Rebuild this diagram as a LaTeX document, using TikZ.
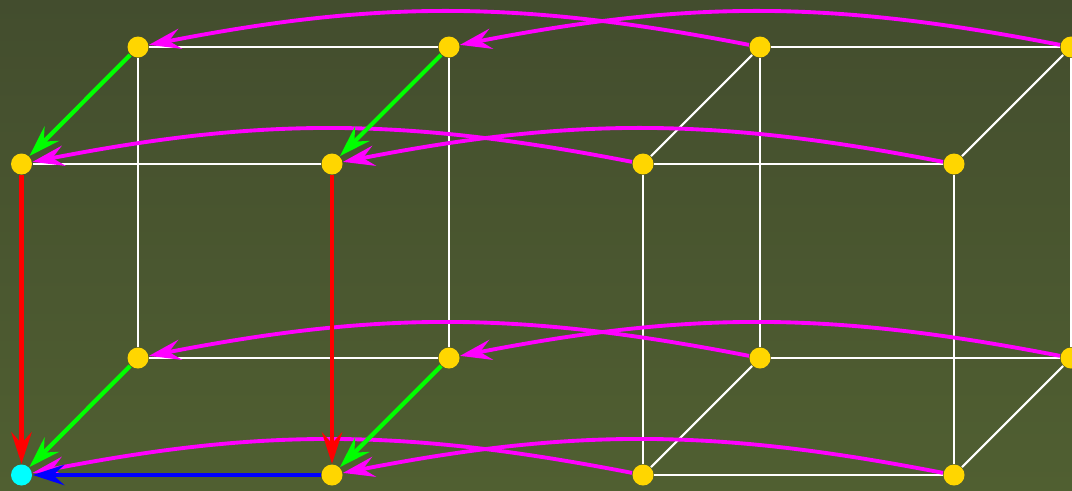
\documentclass[tikz,border=0pt]{standalone}
\usetikzlibrary{arrows.meta}

\definecolor{vtxyellow}{RGB}{255,214,0}
\definecolor{magline}{RGB}{255,0,255}
\definecolor{cyanvtx}{RGB}{0,255,255}
\definecolor{grnline}{RGB}{0,255,0}
\definecolor{redline}{RGB}{255,0,0}
\definecolor{blueline}{RGB}{0,0,255}

\begin{document}
\begin{tikzpicture}[
  vtx/.style={circle, fill=vtxyellow, inner sep=0pt, minimum size=2.1mm},
  start/.style={circle, fill=cyanvtx, inner sep=0pt, minimum size=2.1mm},
  wedge/.style={draw=white, line width=0.6pt},
  tip/.style={-{Stealth[length=9pt, width=5.8pt, inset=3.2pt]}},
  magedge/.style={tip, draw=magline, line width=1.1pt},
  grnedge/.style={tip, draw=grnline, line width=1.2pt},
  rededge/.style={tip, draw=redline, line width=1.2pt},
  bluedge/.style={tip, draw=blueline, line width=1.2pt}
]
\shade[top color={rgb,255:red,67;green,77;blue,46}, bottom color={rgb,255:red,80;green,95;blue,49}] (0,0) rectangle (10.72,4.90);
\useasboundingbox (0,0) rectangle (10.72,4.90);

\node[vtx] (bt1) at (1.38, 4.43) {};
\node[vtx] (bt2) at (4.49, 4.43) {};
\node[vtx] (bt3) at (7.60, 4.43) {};
\node[vtx] (bt4) at (10.71, 4.43) {};
\node[vtx] (ft1) at (0.215, 3.26) {};
\node[vtx] (ft2) at (3.32, 3.26) {};
\node[vtx] (ft3) at (6.43, 3.26) {};
\node[vtx] (ft4) at (9.54, 3.26) {};
\node[vtx] (bb1) at (1.38, 1.32) {};
\node[vtx] (bb2) at (4.49, 1.32) {};
\node[vtx] (bb3) at (7.60, 1.32) {};
\node[vtx] (bb4) at (10.71, 1.32) {};
\node[start] (fb1) at (0.215, 0.15) {};
\node[vtx] (fb2) at (3.32, 0.15) {};
\node[vtx] (fb3) at (6.43, 0.15) {};
\node[vtx] (fb4) at (9.54, 0.15) {};
\draw[wedge] (bt1) -- (bt2);
\draw[wedge] (ft1) -- (ft2);
\draw[wedge] (bt1) -- (bb1);
\draw[wedge] (bt2) -- (bb2);
\draw[wedge] (bb1) -- (bb2);
\draw[wedge] (bt3) -- (bt4);
\draw[wedge] (ft3) -- (ft4);
\draw[wedge] (bt3) -- (ft3);
\draw[wedge] (bt4) -- (ft4);
\draw[wedge] (bt3) -- (bb3);
\draw[wedge] (bt4) -- (bb4);
\draw[wedge] (ft3) -- (fb3);
\draw[wedge] (ft4) -- (fb4);
\draw[wedge] (bb3) -- (bb4);
\draw[wedge] (fb3) -- (fb4);
\draw[wedge] (bb3) -- (fb3);
\draw[wedge] (bb4) -- (fb4);
\draw[magedge] (bt3) to[bend right=11] (bt1);
\draw[magedge] (bt4) to[bend right=11] (bt2);
\draw[magedge] (ft3) to[bend right=11] (ft1);
\draw[magedge] (ft4) to[bend right=11] (ft2);
\draw[magedge] (bb3) to[bend right=11] (bb1);
\draw[magedge] (bb4) to[bend right=11] (bb2);
\draw[magedge] (fb3) to[bend right=11] (fb1);
\draw[magedge] (fb4) to[bend right=11] (fb2);
\draw[grnedge] (bt1) -- (ft1);
\draw[grnedge] (bt2) -- (ft2);
\draw[grnedge] (bb1) -- (fb1);
\draw[grnedge] (bb2) -- (fb2);
\draw[rededge] (ft1) -- (fb1);
\draw[rededge] (ft2) -- (fb2);
\draw[bluedge] (fb2) -- (fb1);

\end{tikzpicture}
\end{document}
